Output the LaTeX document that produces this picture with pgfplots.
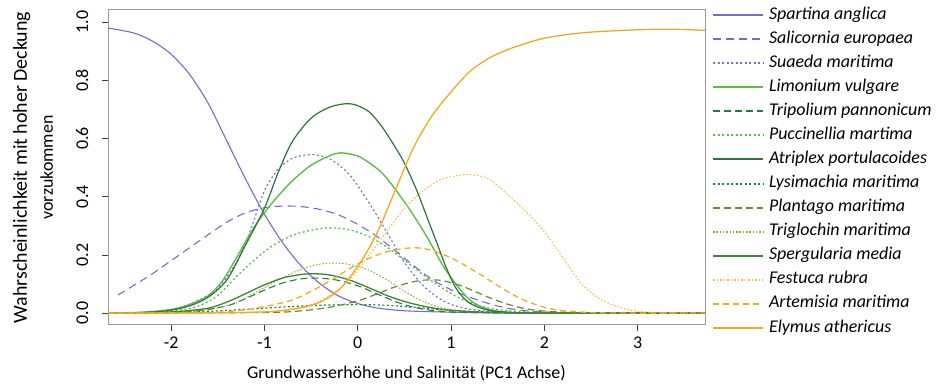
\documentclass[border=0pt]{standalone}
\usepackage{pgfplots}
\pgfplotsset{compat=1.18}
\usepackage{fontspec}
\setmainfont{Carlito}
\definecolor{cpur}{RGB}{120,106,208}
\definecolor{clgr}{RGB}{92,190,72}
\definecolor{cdgr}{RGB}{30,128,60}
\definecolor{catr}{RGB}{45,118,58}
\definecolor{coli}{RGB}{106,138,46}
\definecolor{coll}{RGB}{145,168,62}
\definecolor{cspe}{RGB}{62,134,50}
\definecolor{cora}{RGB}{242,170,30}
\definecolor{corl}{RGB}{245,185,60}
\begin{document}
\fontsize{18}{22}\selectfont
\begin{tikzpicture}
\useasboundingbox (0,0) rectangle (948bp,386bp);
\begin{axis}[
  at={(108bp,61bp)}, anchor=south west,
  scale only axis, width=597bp, height=315bp,
  xmin=-2.676, xmax=3.722, ymin=-0.041, ymax=1.042,
  xtick={-2,-1,0,1,2,3}, ytick={0,0.2,0.4,0.6,0.8,1},
  xtick pos=bottom, ytick pos=left,
  tick align=outside, major tick length=6bp,
  axis line style={draw=black!40, line width=1bp},
  tick style={draw=black!75, line width=0.8bp},
  /pgf/number format/assume math mode=true,
  yticklabel style={rotate=90, anchor=south, inner ysep=13.5bp, /pgf/number format/.cd, fixed, fixed zerofill, precision=1},
  xticklabel style={/pgf/number format/.cd, fixed},
  xlabel={Grundwasserhöhe und Salinität (PC1 Achse)},
  xlabel style={at={(axis description cs:0.5,-0.1683)}, anchor=base, inner sep=0pt},
  ylabel={{\fontsize{20}{26}\selectfont Wahrscheinlichkeit mit hoher Deckung}\\vorzukommen},
  ylabel style={at={(axis description cs:-0.1256,0.5)}, anchor=center, align=center, font=\fontsize{18}{26}\selectfont},
  legend style={at={(rel axis cs:1,1)}, anchor=north west, xshift=7bp, yshift=3bp,
    draw=none, fill=none, inner sep=0pt, outer sep=0pt, row sep=8.08bp, column sep=5bp,
    nodes={inner sep=0pt, text height=12bp, text depth=4bp, font=\itshape}},
  legend cell align=left,
  legend image code/.code={\draw[#1] (0bp,0bp) -- (50bp,0bp);},
  legend image post style={line width=2bp},
  every axis plot/.append style={smooth, no markers},
]
% Spartina anglica
\addplot[cpur, line width=1.1bp] coordinates {(-2.676,0.98) (-2.4,0.963) (-2.2,0.935) (-2.0,0.89) (-1.8,0.82) (-1.6,0.72) (-1.4,0.59) (-1.2,0.46) (-1.0,0.34) (-0.8,0.24) (-0.6,0.16) (-0.4,0.10) (-0.2,0.058) (0,0.033) (0.2,0.018) (0.5,0.008) (1.0,0.003) (1.5,0.001) (2.0,0) (2.8,0) (3.722,0)};
\addlegendentry{Spartina anglica}
% Salicornia europaea
\addplot[cpur, line width=1.1bp, dash pattern=on 8bp off 5bp] coordinates {(-2.57,0.062) (-2.4,0.095) (-2.2,0.135) (-2.0,0.18) (-1.8,0.225) (-1.6,0.27) (-1.4,0.313) (-1.2,0.345) (-1.0,0.362) (-0.8,0.368) (-0.6,0.366) (-0.4,0.356) (-0.2,0.337) (0,0.305) (0.2,0.265) (0.4,0.215) (0.6,0.163) (0.8,0.115) (1.0,0.08) (1.2,0.055) (1.4,0.033) (1.6,0.017) (1.8,0.008) (2.0,0.004) (2.3,0.001) (2.6,0) (3.722,0)};
\addlegendentry{Salicornia europaea}
% Suaeda maritima
\addplot[cpur, line width=1.1bp, dash pattern=on 2bp off 2.5bp] coordinates {(-2.676,0) (-2.2,0.004) (-1.9,0.02) (-1.7,0.045) (-1.5,0.085) (-1.3,0.175) (-1.15,0.285) (-1.0,0.42) (-0.85,0.495) (-0.7,0.532) (-0.5,0.545) (-0.3,0.53) (-0.1,0.48) (0.1,0.39) (0.3,0.285) (0.5,0.175) (0.7,0.095) (0.9,0.045) (1.1,0.02) (1.4,0.006) (1.8,0.001) (2.2,0) (3.722,0)};
\addlegendentry{Suaeda maritima}
% Limonium vulgare
\addplot[clgr, line width=1.4bp] coordinates {(-2.676,0) (-2.3,0.003) (-2.0,0.012) (-1.8,0.03) (-1.6,0.06) (-1.45,0.11) (-1.3,0.19) (-1.1,0.3) (-0.9,0.385) (-0.7,0.455) (-0.5,0.508) (-0.3,0.541) (-0.18,0.551) (0,0.54) (0.13,0.515) (0.25,0.485) (0.35,0.448) (0.45,0.405) (0.56,0.355) (0.74,0.263) (0.92,0.16) (1.1,0.08) (1.24,0.036) (1.4,0.013) (1.6,0.003) (2.0,0) (3.722,0)};
\addlegendentry{Limonium vulgare}
% Tripolium pannonicum
\addplot[cdgr, line width=1.1bp, dash pattern=on 7bp off 4bp] coordinates {(-2.676,0) (-2.0,0.002) (-1.7,0.008) (-1.4,0.025) (-1.2,0.05) (-1.0,0.079) (-0.8,0.104) (-0.6,0.118) (-0.4,0.12) (-0.2,0.112) (0,0.094) (0.2,0.067) (0.4,0.04) (0.6,0.02) (0.8,0.009) (1.0,0.004) (1.3,0.001) (1.7,0) (3.722,0)};
\addlegendentry{Tripolium pannonicum}
% Puccinellia martima
\addplot[clgr, line width=1.3bp, dash pattern=on 2bp off 2.5bp] coordinates {(-2.676,0) (-2.2,0.003) (-1.9,0.01) (-1.7,0.025) (-1.5,0.06) (-1.3,0.125) (-1.1,0.185) (-0.9,0.234) (-0.7,0.267) (-0.5,0.285) (-0.3,0.293) (-0.1,0.287) (0.1,0.266) (0.3,0.23) (0.5,0.182) (0.7,0.132) (0.9,0.087) (1.1,0.05) (1.3,0.026) (1.5,0.012) (1.8,0.004) (2.2,0.001) (2.6,0) (3.722,0)};
\addlegendentry{Puccinellia martima}
% Atriplex portulacoides
\addplot[catr, line width=1.2bp] coordinates {(-2.676,0) (-2.3,0.002) (-2.0,0.01) (-1.8,0.025) (-1.6,0.055) (-1.4,0.115) (-1.2,0.235) (-1.0,0.36) (-0.85,0.485) (-0.7,0.59) (-0.5,0.67) (-0.3,0.708) (-0.12,0.72) (0.0,0.713) (0.13,0.69) (0.25,0.645) (0.35,0.597) (0.49,0.522) (0.63,0.424) (0.74,0.332) (0.85,0.24) (0.95,0.155) (1.06,0.082) (1.2,0.034) (1.4,0.01) (1.6,0.003) (2.0,0) (3.722,0)};
\addlegendentry{Atriplex portulacoides}
% Lysimachia maritima
\addplot[cdgr, line width=1.2bp, dash pattern=on 2bp off 2.5bp] coordinates {(-2.676,0) (-2.0,0.002) (-1.6,0.006) (-1.2,0.013) (-0.8,0.021) (-0.4,0.027) (0,0.029) (0.3,0.027) (0.6,0.02) (0.9,0.012) (1.2,0.006) (1.6,0.002) (2.0,0) (3.722,0)};
\addlegendentry{Lysimachia maritima}
% Plantago maritima
\addplot[coli, line width=1.2bp, dash pattern=on 7bp off 4bp] coordinates {(-2.676,0) (-1.0,0.002) (-0.6,0.008) (-0.3,0.02) (0,0.042) (0.2,0.065) (0.4,0.09) (0.6,0.108) (0.75,0.114) (0.9,0.112) (1.1,0.095) (1.3,0.068) (1.5,0.042) (1.7,0.022) (1.9,0.01) (2.2,0.003) (2.6,0) (3.722,0)};
\addlegendentry{Plantago maritima}
% Triglochin maritima
\addplot[coll, line width=1bp, dash pattern=on 1.5bp off 1.8bp] coordinates {(-2.676,0) (-2.0,0.002) (-1.7,0.008) (-1.5,0.018) (-1.3,0.035) (-1.1,0.07) (-0.9,0.105) (-0.7,0.138) (-0.5,0.162) (-0.3,0.172) (-0.1,0.168) (0.1,0.15) (0.3,0.117) (0.5,0.075) (0.7,0.04) (0.9,0.018) (1.1,0.007) (1.4,0.002) (1.8,0) (3.722,0)};
\addlegendentry{Triglochin maritima}
% Spergularia media
\addplot[cspe, line width=1.3bp] coordinates {(-2.676,0) (-2.2,0.002) (-1.9,0.006) (-1.6,0.017) (-1.4,0.038) (-1.2,0.067) (-1.0,0.097) (-0.8,0.121) (-0.6,0.133) (-0.45,0.135) (-0.3,0.131) (-0.1,0.115) (0.1,0.09) (0.3,0.062) (0.5,0.04) (0.7,0.024) (0.9,0.013) (1.2,0.005) (1.6,0.001) (2.0,0) (3.722,0)};
\addlegendentry{Spergularia media}
% Festuca rubra
\addplot[corl, line width=1.1bp, dash pattern=on 1.5bp off 2bp] coordinates {(-2.676,0) (-1.2,0.002) (-0.8,0.01) (-0.5,0.03) (-0.3,0.06) (-0.1,0.11) (0.1,0.19) (0.3,0.275) (0.5,0.36) (0.7,0.42) (0.9,0.46) (1.1,0.474) (1.22,0.476) (1.4,0.462) (1.6,0.41) (1.8,0.35) (2.0,0.28) (2.2,0.19) (2.4,0.1) (2.6,0.048) (2.8,0.02) (3.0,0.006) (3.3,0.001) (3.722,0)};
\addlegendentry{Festuca rubra}
% Artemisia maritima
\addplot[cora, line width=1.3bp, dash pattern=on 6bp off 4bp] coordinates {(-2.676,0) (-1.6,0.002) (-1.3,0.008) (-1.0,0.022) (-0.7,0.045) (-0.5,0.075) (-0.3,0.11) (-0.1,0.15) (0.1,0.185) (0.3,0.21) (0.5,0.222) (0.65,0.224) (0.8,0.215) (1.0,0.19) (1.2,0.155) (1.4,0.115) (1.6,0.075) (1.8,0.042) (2.0,0.02) (2.2,0.008) (2.5,0.002) (2.8,0) (3.722,0)};
\addlegendentry{Artemisia maritima}
% Elymus athericus
\addplot[cora, line width=1.3bp] coordinates {(-2.676,0) (-1.5,0.001) (-1.0,0.004) (-0.8,0.009) (-0.6,0.018) (-0.4,0.038) (-0.2,0.08) (0,0.16) (0.2,0.27) (0.4,0.42) (0.6,0.57) (0.8,0.68) (1.0,0.76) (1.2,0.83) (1.4,0.875) (1.6,0.905) (1.8,0.927) (2.0,0.945) (2.3,0.96) (2.6,0.968) (3.0,0.974) (3.35,0.976) (3.722,0.972)};
\addlegendentry{Elymus athericus}
\node[anchor=base, inner sep=0pt] at (axis description cs:0.0151,-0.1683) {hoch};
\node[anchor=base, inner sep=0pt] at (axis description cs:0.9456,-0.1683) {niedrig};
\end{axis}
\end{tikzpicture}
\end{document}
